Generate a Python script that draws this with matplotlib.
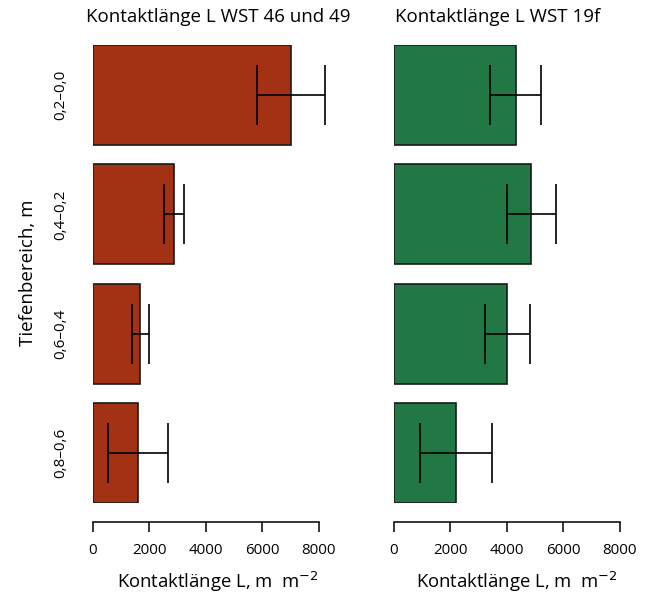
import matplotlib
matplotlib.use("Agg")
import matplotlib.pyplot as plt
import numpy as np

plt.rcParams["font.family"] = ["Open Sans", "DejaVu Sans"]

# depth classes, top to bottom
depths = ["0,2\u20130,0", "0,4\u20130,2", "0,6\u20130,4", "0,8\u20130,6"]

# contact length L (m m^-2), mean and error half width
wst_46_49 = [7020, 2870, 1670, 1595]
wst_46_49_err = [1200, 370, 300, 1070]
wst_19f = [4315, 4860, 4020, 2205]
wst_19f_err = [910, 870, 810, 1270]

xticks = [0, 2000, 4000, 6000, 8000]

# title, means, errors, colour, axes left px, title centre px, xlabel centre px
panels = [
    ("Kontaktlänge L WST 46 und 49", wst_46_49, wst_46_49_err, "#A33214",
     93, 218, 218),
    ("Kontaktlänge L WST 19f", wst_19f, wst_19f_err, "#217845",
     394, 498, 517),
]

W, H = 653, 598
fig = plt.figure(figsize=(W / 100, H / 100), dpi=100)

y = np.arange(len(depths))
for i, (title, vals, errs, color, x0, title_x, xlab_x) in enumerate(panels):
    ax = fig.add_axes([x0 / W, (H - 503) / H, 225.7 / W, 458 / H])
    ax.barh(y, vals, height=0.84, color=color, edgecolor="#1a1a1a",
            linewidth=1.2)
    ax.errorbar(vals, y, xerr=errs, fmt="none", ecolor="black",
                elinewidth=1.2, capsize=21.6, capthick=1.2, clip_on=False)
    ax.set_xlim(0, 8000)
    ax.set_ylim(3.42, -0.42)
    for s in ["top", "right", "left"]:
        ax.spines[s].set_visible(False)
    ax.spines["bottom"].set_position(("outward", 14))
    ax.spines["bottom"].set_linewidth(1.1)
    ax.set_xticks(xticks)
    ax.set_xticklabels([str(t) for t in xticks])
    ax.tick_params(axis="x", length=7, width=1.1, labelsize=10.8, pad=8)
    if i == 0:
        ax.set_yticks(y)
        ax.set_yticklabels(depths, rotation=90, va="center", fontsize=11)
        ax.tick_params(axis="y", length=0, pad=18)
    else:
        ax.set_yticks([])
    fig.text(title_x / W, 1 - 17 / H, title, ha="center", va="center",
             fontsize=13.5)
    fig.text(xlab_x / W, 1 - 582 / H, "Kontaktlänge L, m  m$^{-2}$",
             ha="center", va="center", fontsize=13.3)

fig.text(28 / W, 1 - 273 / H, "Tiefenbereich, m", rotation=90,
         ha="center", va="center", fontsize=13.5)

fig.savefig("out.png", dpi=100)
